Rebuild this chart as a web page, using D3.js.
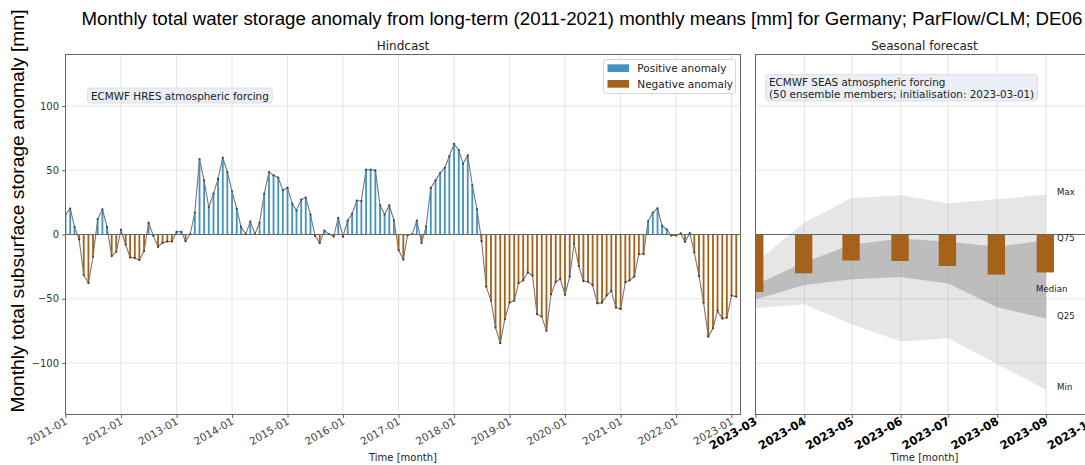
<!DOCTYPE html>
<html>
<head>
<meta charset="utf-8">
<script src="https://cdn.jsdelivr.net/npm/d3@7"></script>
<style>
  body { margin: 0; background: #fff; }
  svg { display: block; }
</style>
</head>
<body>
<script>
// Hindcast: monthly anomaly [mm], first month 2011-01
var hindcastStart = "2011-01";
var hindcastValues = [
  15.5, 20.2, 5.9, -3.9, -31.5, -37.7, -17.3, 11.9, 19.6, 5.9, -16.8, -13.4,
  3.6, -7.8, -17.8, -18.3, -19.9, -12.9, 9.0, -1.0, -9.6, -6.5, -5.4, -5.4,
  2.1, 2.1, -5.2, 0.3, 17.1, 58.7, 42.1, 21.2, 31.8, 43.2, 59.7, 48.6,
  33.6, 20.2, 5.9, 0.3, 10.1, 0.5, 9.3, 31.8, 48.6, 46.0, 44.2, 34.4,
  36.4, 24.0, 18.6, 27.1, 28.7, 15.5, -1.0, -6.7, 3.1, 0.3, -1.6, 12.9,
  -1.6, 10.9, 16.0, 26.4, 26.1, 50.4, 50.4, 49.9, 22.7, 15.5, 22.7, 11.1,
  -12.1, -19.4, -0.5, 0.3, 10.9, -6.7, 6.2, 36.2, 42.1, 47.8, 51.9, 61.0,
  70.5, 65.6, 55.0, 61.5, 38.2, 19.6, -5.2, -40.6, -51.4, -72.4, -84.5, -65.9,
  -53.0, -51.4, -38.0, -35.7, -29.5, -32.0, -62.0, -63.8, -74.9, -46.5, -37.0, -34.6,
  -46.8, -32.8, -7.2, -24.5, -36.2, -36.7, -39.5, -53.5, -53.0, -47.5, -43.9, -56.8,
  -57.9, -37.2, -35.7, -32.8, -15.2, -15.2, 10.3, 17.1, 20.4, 6.7, 3.9, -0.8,
  -0.8, 0.8, -5.7, 1.0, -14.0, -32.3, -53.0, -79.3, -72.9, -59.2, -65.4, -64.6,
  -47.5, -48.3
];

// Seasonal forecast (init 2023-03-01)
var forecastMonths = ["2023-03", "2023-04", "2023-05", "2023-06", "2023-07", "2023-08", "2023-09"];
var forecastBars = [-44.7, -30.2, -20.2, -20.6, -24.5, -31.2, -29.5];
var forecastMax = [-22.0, 9.5, 28.4, 30.5, 24.3, 27.4, 31.2];
var forecastQ75 = [-39.0, -21.5, -7.8, -3.1, -5.7, -9.5, -4.4];
var forecastQ25 = [-50.4, -39.3, -34.9, -33.1, -38.2, -56.6, -65.4];
var forecastMin = [-57.4, -54.3, -70.0, -83.2, -80.6, -100.8, -120.7];
var forecastMedianEnd = -44.4;

var yTicks = [-100, -50, 0, 50, 100];
var hindcastTickLabels = ["2011-01", "2012-01", "2013-01", "2014-01", "2015-01", "2016-01", "2017-01",
  "2018-01", "2019-01", "2020-01", "2021-01", "2022-01", "2023-01"];
var forecastTickLabels = ["2023-03", "2023-04", "2023-05", "2023-06", "2023-07", "2023-08", "2023-09", "2023-10"];

var posColor = "#4393c3",
    negColor = "#a6611a";

var width = 1085, height = 465;
var parseMonth = d3.timeParse("%Y-%m");
var fmtMonth = d3.timeFormat("%Y-%m");

var svg = d3.select("body").append("svg")
  .attr("width", width).attr("height", height)
  .style("font-family", "'DejaVu Sans', sans-serif");

var y = d3.scaleLinear().domain([-140, 140]).range([414.5, 54.5]);

// x scales
var start = parseMonth(hindcastStart);
var hindDates = hindcastValues.map(function (v, i) { return d3.timeMonth.offset(start, i); });
var xL = d3.scaleTime()
  .domain([start, parseMonth("2023-03")])
  .range([65.5, 740.5]);
var fDates = forecastMonths.map(parseMonth);
var xR = d3.scaleTime()
  .domain([parseMonth("2023-03"), parseMonth("2023-10")])
  .range([755.5, 1093.5]);

// clip paths
var defs = svg.append("defs");
defs.append("clipPath").attr("id", "clipL").append("rect")
  .attr("x", 65.5).attr("y", 54.5).attr("width", 675).attr("height", 360);
defs.append("clipPath").attr("id", "clipR").append("rect")
  .attr("x", 755.5).attr("y", 54.5).attr("width", 338).attr("height", 360);

function drawGrid(g, x, ticks) {
  g.selectAll(".vg").data(ticks).enter().append("line")
    .attr("x1", function (d) { return x(d); }).attr("x2", function (d) { return x(d); })
    .attr("y1", 54.5).attr("y2", 414.5)
    .attr("stroke", "#dedede").attr("stroke-width", 0.8);
  g.selectAll(".hg").data(yTicks).enter().append("line")
    .attr("x1", x.range()[0]).attr("x2", x.range()[1])
    .attr("y1", function (d) { return y(d); }).attr("y2", function (d) { return y(d); })
    .attr("stroke", "#dedede").attr("stroke-width", 0.8);
}

var hindTicks = hindcastTickLabels.map(parseMonth);
var foreTicks = forecastTickLabels.map(parseMonth);

// ---------- Hindcast panel ----------
var gL = svg.append("g").attr("clip-path", "url(#clipL)");
drawGrid(gL, xL, hindTicks);

gL.selectAll(".bar").data(hindcastValues).enter().append("rect")
  .attr("x", function (d, i) { return xL(d3.timeDay.offset(hindDates[i], -6)); })
  .attr("width", function (d, i) { return xL(d3.timeDay.offset(hindDates[i], 6)) - xL(d3.timeDay.offset(hindDates[i], -6)); })
  .attr("y", function (d) { return Math.min(y(d), y(0)); })
  .attr("height", function (d) { return Math.abs(y(d) - y(0)); })
  .attr("fill", function (d) { return d >= 0 ? posColor : negColor; });

gL.append("path").datum(hindcastValues)
  .attr("fill", "none").attr("stroke", "#777").attr("stroke-width", 1.1)
  .attr("d", d3.line().x(function (d, i) { return xL(hindDates[i]); }).y(function (d) { return y(d); }));

gL.selectAll(".dot").data(hindcastValues).enter().append("circle")
  .attr("cx", function (d, i) { return xL(hindDates[i]); })
  .attr("cy", function (d) { return y(d); })
  .attr("r", 1.1)
  .attr("fill", function (d) { return d >= 0 ? "#1d4f73" : "#5c3510"; });

gL.append("line").attr("x1", 65.5).attr("x2", 740.5).attr("y1", y(0)).attr("y2", y(0))
  .attr("stroke", "#666").attr("stroke-width", 1.2);

// ---------- Forecast panel ----------
var gR = svg.append("g").attr("clip-path", "url(#clipR)");
drawGrid(gR, xR, foreTicks);

var area = function (hi, lo) {
  return d3.area()
    .x(function (d, i) { return xR(fDates[i]); })
    .y0(function (d, i) { return y(lo[i]); })
    .y1(function (d, i) { return y(hi[i]); })(hi);
};
gR.append("path").attr("d", area(forecastMax, forecastMin))
  .attr("fill", "#808080").attr("fill-opacity", 0.2);
gR.append("path").attr("d", area(forecastQ75, forecastQ25))
  .attr("fill", "#808080").attr("fill-opacity", 0.4);

gR.selectAll(".fbar").data(forecastBars).enter().append("rect")
  .attr("x", function (d, i) { return xR(d3.timeDay.offset(fDates[i], -5.8)); })
  .attr("width", function (d, i) { return xR(d3.timeDay.offset(fDates[i], 5.8)) - xR(d3.timeDay.offset(fDates[i], -5.8)); })
  .attr("y", function (d) { return Math.min(y(d), y(0)); })
  .attr("height", function (d) { return Math.abs(y(d) - y(0)); })
  .attr("fill", negColor);

gR.append("line").attr("x1", 755.5).attr("x2", 1093.5).attr("y1", y(0)).attr("y2", y(0))
  .attr("stroke", "#666").attr("stroke-width", 1.2);

// quantile labels
var last = forecastMonths.length - 1;
var qLabels = [
  { text: "Max", v: forecastMax[last], dx: 11 },
  { text: "Q75", v: forecastQ75[last], dx: 11 },
  { text: "Median", v: forecastMedianEnd, dx: -10 },
  { text: "Q25", v: forecastQ25[last], dx: 11 },
  { text: "Min", v: forecastMin[last], dx: 11 }
];
svg.selectAll(".ql").data(qLabels).enter().append("text")
  .attr("x", function (d) { return xR(fDates[last]) + d.dx; })
  .attr("y", function (d) { return y(d.v) - 2.5; })
  .attr("dy", "0.35em")
  .attr("font-size", "8.6px").attr("fill", "#222")
  .text(function (d) { return d.text; });

// ---------- Frames and axes ----------
[[65.5, 740.5], [755.5, 1093.5]].forEach(function (r) {
  svg.append("rect").attr("x", r[0]).attr("y", 54.5).attr("width", r[1] - r[0]).attr("height", 360)
    .attr("fill", "none").attr("stroke", "#666").attr("stroke-width", 1);
});

var yAxis = svg.append("g").attr("transform", "translate(65.5,0)")
  .call(d3.axisLeft(y).tickValues(yTicks).tickSize(3.5).tickPadding(3)
    .tickFormat(function (d) { return d < 0 ? "\u2212" + Math.abs(d) : d; }));
yAxis.select(".domain").remove();
yAxis.selectAll("line").attr("stroke", "#666");
yAxis.selectAll("text").attr("font-size", "10px").attr("fill", "#333").style("font-family", "'DejaVu Sans', sans-serif");

var xAxisL = svg.append("g").attr("transform", "translate(0,414.5)")
  .call(d3.axisBottom(xL).tickValues(hindTicks).tickSize(3.5).tickFormat(fmtMonth));
xAxisL.select(".domain").remove();
xAxisL.selectAll("line").attr("stroke", "#666");
xAxisL.selectAll("text")
  .attr("font-size", "10.5px").attr("fill", "#444").style("font-family", "'DejaVu Sans', sans-serif")
  .attr("text-anchor", "end").attr("dy", null).attr("y", 0)
  .attr("transform", "translate(2,9) rotate(-30)");

var xAxisR = svg.append("g").attr("transform", "translate(0,414.5)")
  .call(d3.axisBottom(xR).tickValues(foreTicks).tickSize(3.5).tickFormat(fmtMonth));
xAxisR.select(".domain").remove();
xAxisR.selectAll("line").attr("stroke", "#666");
xAxisR.selectAll("text")
  .attr("font-size", "11.5px").attr("font-weight", "bold").attr("fill", "#000").style("font-family", "'DejaVu Sans', sans-serif")
  .attr("text-anchor", "end").attr("dy", null).attr("y", 0)
  .attr("transform", "translate(2,9) rotate(-30)");

// axis titles
svg.append("text").attr("x", 403).attr("y", 461).attr("text-anchor", "middle")
  .attr("font-size", "10px").attr("fill", "#222").text("Time [month]");
svg.append("text").attr("x", 924.5).attr("y", 461).attr("text-anchor", "middle")
  .attr("font-size", "10px").attr("fill", "#222").text("Time [month]");

svg.append("text").attr("x", 403).attr("y", 50).attr("text-anchor", "middle")
  .attr("font-size", "12px").attr("fill", "#222").text("Hindcast");
svg.append("text").attr("x", 924.5).attr("y", 50).attr("text-anchor", "middle")
  .attr("font-size", "12px").attr("fill", "#222").text("Seasonal forecast");

svg.append("text").attr("x", 81.5).attr("y", 25)
  .style("font-family", "'Liberation Sans', Arial, sans-serif").attr("font-size", "18.7px").attr("fill", "#000")
  .text("Monthly total water storage anomaly from long-term (2011-2021) monthly means [mm] for Germany; ParFlow/CLM; DE06");

svg.append("text").attr("transform", "translate(24,211) rotate(-90)").attr("text-anchor", "middle")
  .style("font-family", "'Liberation Sans', Arial, sans-serif").attr("font-size", "19.2px").attr("fill", "#000")
  .text("Monthly total subsurface storage anomaly [mm]");

// ---------- text boxes ----------
function textBox(x0, y0, lines) {
  var g = svg.append("g");
  var rect = g.append("rect");
  var t = g.append("text").attr("font-size", "10.4px").attr("fill", "#222");
  lines.forEach(function (l, i) {
    t.append("tspan").attr("x", x0).attr("y", y0 + i * 11.5).text(l);
  });
  var bb = t.node().getBBox();
  rect.attr("x", bb.x - 3.5).attr("y", bb.y - 1.5).attr("width", bb.width + 7).attr("height", bb.height + 3)
    .attr("rx", 3).attr("fill", "#e9eff5").attr("stroke", "#d3dce6").attr("stroke-width", 0.8);
}
textBox(91, 99.5, ["ECMWF HRES atmospheric forcing"]);
textBox(769, 86, ["ECMWF SEAS atmospheric forcing", "(50 ensemble members; initialisation: 2023-03-01)"]);

// ---------- legend ----------
var legendItems = [{ label: "Positive anomaly", color: posColor }, { label: "Negative anomaly", color: negColor }];
var lg = svg.append("g");
lg.append("rect").attr("x", 603.5).attr("y", 59.5).attr("width", 132).attr("height", 34)
  .attr("rx", 2.5).attr("fill", "#fff").attr("fill-opacity", 0.85).attr("stroke", "#ccc").attr("stroke-width", 0.8);
lg.selectAll(".li").data(legendItems).enter().append("rect")
  .attr("x", 607.5).attr("y", function (d, i) { return 64.3 + i * 15.7; })
  .attr("width", 21.6).attr("height", 7.7).attr("fill", function (d) { return d.color; });
lg.selectAll(".lt").data(legendItems).enter().append("text")
  .attr("x", 637.3).attr("y", function (d, i) { return 68.2 + i * 15.7; }).attr("dy", "0.35em")
  .attr("font-size", "10.5px").attr("fill", "#222").text(function (d) { return d.label; });
</script>
</body>
</html>
